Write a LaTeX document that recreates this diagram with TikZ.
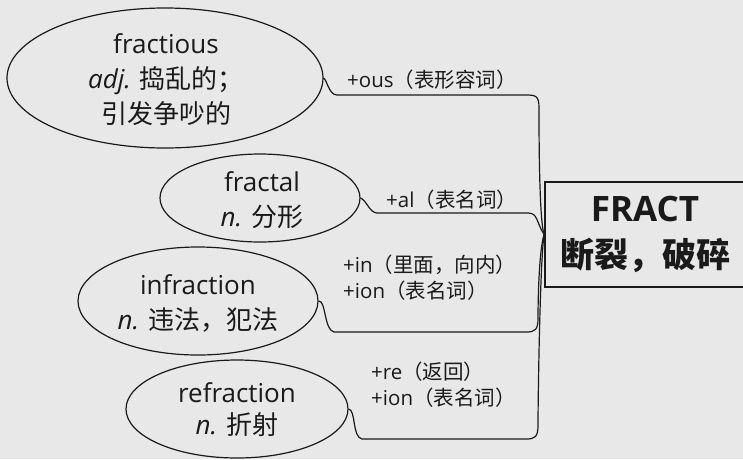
\documentclass[tikz,border=0pt]{standalone}
\usepackage{fontspec}
\setmainfont{Open Sans}
\newfontfamily\cjk{Noto Sans CJK SC}
\definecolor{bg}{HTML}{E8E8E8}
\definecolor{ink}{HTML}{1A1A1A}
\begin{document}
\begin{tikzpicture}[x=1pt,y=-1pt,
  wordell/.style={draw=ink, line width=1.2pt, ellipse, inner sep=0pt},
  wordtxt/.style={text=ink, align=center, font=\fontsize{26}{35}\selectfont, inner sep=0pt},
  lbl/.style={text=ink, anchor=base west, align=left, font=\fontsize{20.5}{26}\selectfont, inner sep=0pt},
  conn/.style={draw=ink, line width=1.2pt},
  rootbox/.style={draw=ink, line width=1.8pt, minimum width=200pt, minimum height=105pt, inner sep=0pt, text=ink, align=center, font=\fontsize{34}{46}\selectfont\bfseries}]
\usetikzlibrary{shapes.geometric}
\fill[bg] (0,0) rectangle (743,459);
\useasboundingbox (0,0) rectangle (743,459);
% ellipses
\node[wordell, minimum width=316pt, minimum height=140pt] (e1) at (165,78) {};
\node[wordell, minimum width=200pt, minimum height=88pt] (e2) at (260,198) {};
\node[wordell, minimum width=240pt, minimum height=108pt] (e3) at (198,301) {};
\node[wordell, minimum width=222pt, minimum height=98pt] (e4) at (237,409) {};
\node[wordtxt] (t1) at (166,80) {fractious\\\textit{adj.} {\cjk 捣乱的；}\\{\cjk 引发争吵的}};
\node[wordtxt] (t2) at (262,200) {fractal\\\textit{n.} {\cjk 分形}};
\node[wordtxt] (t3) at (198,303) {infraction\\\textit{n.} {\cjk 违法，犯法}};
\node[wordtxt, font=\fontsize{26}{32}\selectfont] (t4) at (237,410) {refraction\\\textit{n.} {\cjk 折射}};
% root
\node[rootbox] (root) at (645,234.5) {{\fontsize{35}{46}\selectfont FRACT}\\{\cjk 断裂，破碎}};
% labels
\node[lbl] (l1) at (347,87) {+ous{\cjk （表形容词）}};
\node[lbl] (l2) at (386,207) {+al{\cjk （表名词）}};
\node[lbl] (l3) at (343,298) {+in{\cjk （里面，向内）}\\+ion{\cjk （表名词）}};
\node[lbl] (l4) at (371,405) {+re{\cjk （返回）}\\+ion{\cjk （表名词）}};
% connectors
\draw[conn] (root.west) .. controls (539,220) and (539,130) .. (539,108)
  .. controls (539,96) and (536,95) .. (526,95) -- (337,95)
  .. controls (329,95) and (327,80) .. (e1.east);
\draw[conn] (root.west) .. controls (536,222) and (538,213) .. (528,213) -- (377,213)
  .. controls (370,213) and (366,200) .. (e2.east);
\draw[conn] (root.west) .. controls (539,250) and (538,300) .. (538,318)
  .. controls (538,330) and (535,332) .. (526,332) -- (334,332)
  .. controls (324,330) and (326,300) .. (e3.east);
\draw[conn] (root.west) .. controls (540,260) and (538,400) .. (538,425)
  .. controls (538,437) and (535,439) .. (526,439) -- (362,439)
  .. controls (352,437) and (356,410) .. (e4.east);
\end{tikzpicture}
\end{document}
